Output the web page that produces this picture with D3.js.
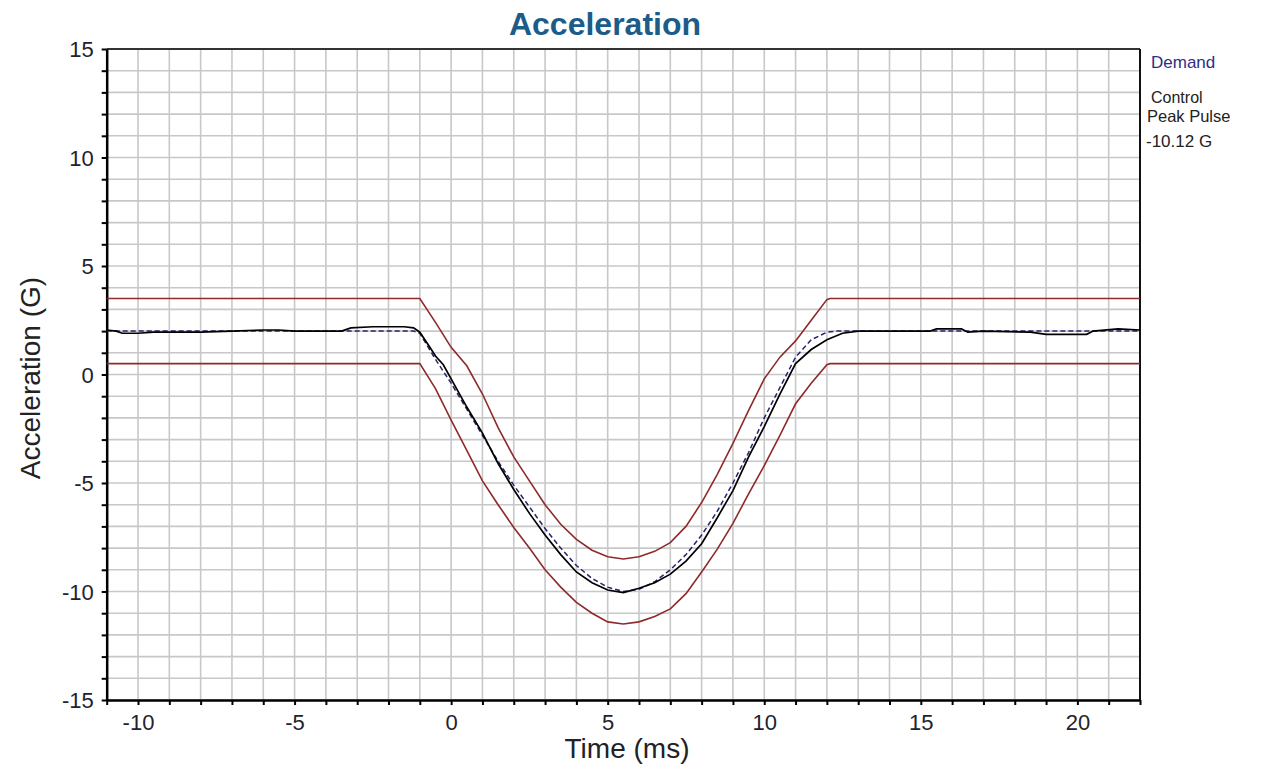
<!DOCTYPE html>
<html>
<head>
<meta charset="utf-8">
<script src="https://cdn.jsdelivr.net/npm/d3@7"></script>
<style>
  html, body { margin: 0; padding: 0; background: #fff; }
  svg { display: block; }
</style>
</head>
<body>
<svg id="chart" width="1265" height="772"></svg>
<script>
// ---- data ----
const xDomain = [-11, 22];
const yDomain = [-15, 15];
const xTickLabels = [-10, -5, 0, 5, 10, 15, 20];
const yTickLabels = [-15, -10, -5, 0, 5, 10, 15];

const upperT = [-11, -1, -0.5, 0, 0.5, 1, 1.5, 2, 2.5, 3, 3.5, 4, 4.5, 5, 5.5, 6, 6.5, 7, 7.5, 8, 8.5, 9, 9.5, 10, 10.5, 11, 11.5, 12, 12.1, 22];
const upperV = [3.5, 3.5, 2.4, 1.25, 0.4, -0.9, -2.45, -3.8, -4.9, -6.0, -6.9, -7.6, -8.1, -8.4, -8.5, -8.4, -8.15, -7.75, -7.0, -5.9, -4.6, -3.17, -1.65, -0.2, 0.8, 1.55, 2.5, 3.45, 3.5, 3.5];

const lowerT = [-11, -1, -0.5, 0, 0.5, 1, 1.5, 2, 2.5, 3, 3.5, 4, 4.5, 5, 5.5, 6, 6.5, 7, 7.5, 8, 8.5, 9, 9.5, 10, 10.5, 11, 11.5, 12, 12.1, 22];
const lowerV = [0.5, 0.5, -0.65, -2.1, -3.5, -4.9, -6.0, -7.05, -8.0, -9.0, -9.8, -10.5, -11.0, -11.4, -11.5, -11.4, -11.15, -10.8, -10.1, -9.1, -8.05, -6.86, -5.5, -4.2, -2.8, -1.35, -0.4, 0.45, 0.5, 0.5];

const demandT = [-11, -1.2, -1, -0.5, 0, 0.5, 1, 1.5, 2, 2.5, 3, 3.5, 4, 4.5, 5, 5.5, 6, 6.5, 7, 7.5, 8, 8.5, 9, 9.5, 10, 10.5, 11, 11.5, 12, 12.3, 22];
const demandV = [2.0, 2.0, 1.9, 0.7, -0.4, -1.6, -2.8, -4.0, -5.1, -6.1, -7.1, -8.0, -8.8, -9.4, -9.8, -10.0, -9.9, -9.55, -9.0, -8.3, -7.4, -6.3, -5.0, -3.6, -2.0, -0.6, 0.8, 1.6, 1.95, 2.0, 2.0];

const controlT = [-11, -10.7, -10.5, -10, -9.5, -8, -7, -6, -5.5, -5, -3.5, -3.2, -2.5, -1.5, -1.2, -1.0, -0.7, -0.5, -0.25, 0, 0.5, 1, 1.5, 2, 2.5, 3, 3.5, 4, 4.5, 5, 5.5, 6, 6.5, 7, 7.5, 8, 8.5, 9, 9.5, 10, 10.5, 11, 11.5, 12, 12.5, 13, 15.3, 15.5, 16.3, 16.5, 17, 18.5, 19, 20.3, 20.5, 21.3, 22];
const controlV = [2.05, 2.0, 1.9, 1.9, 1.95, 1.95, 2.0, 2.05, 2.05, 2.0, 2.0, 2.15, 2.2, 2.2, 2.15, 1.95, 1.3, 0.85, 0.45, -0.2, -1.5, -2.7, -4.1, -5.3, -6.4, -7.4, -8.3, -9.1, -9.6, -9.93, -10.05, -9.85, -9.6, -9.2, -8.6, -7.8, -6.6, -5.35, -3.8, -2.4, -0.9, 0.5, 1.15, 1.6, 1.9, 2.0, 2.0, 2.1, 2.1, 1.95, 2.0, 1.95, 1.85, 1.85, 2.0, 2.1, 2.05];

const legendLabels = ["Demand", "Control", "Peak Pulse", "-10.12 G"];

// ---- layout ----
const svg = d3.select("#chart");
const L = 106.7, R = 1140, T = 49, B = 700;
const x = d3.scaleLinear().domain(xDomain).range([L, R]);
const y = d3.scaleLinear().domain(yDomain).range([B, T]);
const font = "'Liberation Sans', Arial, sans-serif";

// grid
const gridX = d3.range(xDomain[0], xDomain[1] + 1, 1);
const gridY = d3.range(yDomain[0], yDomain[1] + 1, 1);
svg.append("g").selectAll("line").data(gridX).join("line")
  .attr("x1", d => x(d)).attr("x2", d => x(d)).attr("y1", T).attr("y2", B)
  .attr("stroke", "#c8c8c8").attr("stroke-width", 1.6);
svg.append("g").selectAll("line").data(gridY).join("line")
  .attr("y1", d => y(d)).attr("y2", d => y(d)).attr("x1", L).attr("x2", R)
  .attr("stroke", "#c8c8c8").attr("stroke-width", 1.6);

// frame top/right
svg.append("line").attr("x1", L).attr("x2", R).attr("y1", T).attr("y2", T).attr("stroke", "#333").attr("stroke-width", 2);
svg.append("line").attr("x1", R).attr("x2", R).attr("y1", T).attr("y2", B).attr("stroke", "#111").attr("stroke-width", 2);

// axes
const xAxis = d3.axisBottom(x).tickValues(gridX).tickSize(5).tickSizeOuter(0)
  .tickFormat(d => xTickLabels.includes(d) ? d : "");
const yAxis = d3.axisLeft(y).tickValues(gridY).tickSize(5).tickSizeOuter(0)
  .tickFormat(d => yTickLabels.includes(d) ? d : "");

const gx = svg.append("g").attr("transform", `translate(0,${B})`).call(xAxis);
const gy = svg.append("g").attr("transform", `translate(${L},0)`).call(yAxis);
[gx, gy].forEach(g => {
  g.select(".domain").attr("stroke", "#000").attr("stroke-width", 2.5);
  g.selectAll(".tick line").attr("stroke", "#000").attr("stroke-width", 2);
  g.selectAll(".tick text").attr("font-family", font).attr("font-size", 22).attr("fill", "#22222e");
});
gx.selectAll(".tick text").attr("dy", 0).attr("y", 30);
gy.selectAll(".tick text").attr("x", -13).attr("dy", "0.36em");

// series
const toPts = (ts, vs) => ts.map((t, i) => [t, vs[i]]);
const line = d3.line().x(d => x(d[0])).y(d => y(d[1]));
const plot = svg.append("g");
plot.append("path").attr("d", line(toPts(upperT, upperV))).attr("fill", "none").attr("stroke", "#8e2a2a").attr("stroke-width", 1.6);
plot.append("path").attr("d", line(toPts(lowerT, lowerV))).attr("fill", "none").attr("stroke", "#8e2a2a").attr("stroke-width", 1.6);
plot.append("path").attr("d", line(toPts(demandT, demandV))).attr("fill", "none").attr("stroke", "#24246e").attr("stroke-width", 1.5).attr("stroke-dasharray", "5,3");
plot.append("path").attr("d", line(toPts(controlT, controlV))).attr("fill", "none").attr("stroke", "#000").attr("stroke-width", 1.7);

// title
svg.append("text").attr("x", 605).attr("y", 35).attr("text-anchor", "middle")
  .attr("font-family", font).attr("font-weight", "bold").attr("font-size", 32)
  .attr("fill", "#1d5b88").text("Acceleration");

// axis titles
svg.append("text").attr("x", 627).attr("y", 758).attr("text-anchor", "middle")
  .attr("font-family", font).attr("font-size", 28).attr("fill", "#222").text("Time (ms)");
svg.append("text").attr("transform", "translate(40,378) rotate(-90)").attr("text-anchor", "middle")
  .attr("font-family", font).attr("font-size", 28).attr("fill", "#222").text("Acceleration (G)");

// legend text
svg.append("text").attr("x", 1151).attr("y", 68).attr("font-family", font).attr("font-size", 17).attr("fill", "#2e2e86").text(legendLabels[0]);
svg.append("text").attr("x", 1151).attr("y", 103).attr("font-family", font).attr("font-size", 16).attr("fill", "#222").text(legendLabels[1]);
svg.append("text").attr("x", 1147).attr("y", 122).attr("font-family", font).attr("font-size", 16.5).attr("fill", "#222").text(legendLabels[2]);
svg.append("text").attr("x", 1146).attr("y", 147).attr("font-family", font).attr("font-size", 17).attr("fill", "#222").text(legendLabels[3]);
</script>
</body>
</html>
